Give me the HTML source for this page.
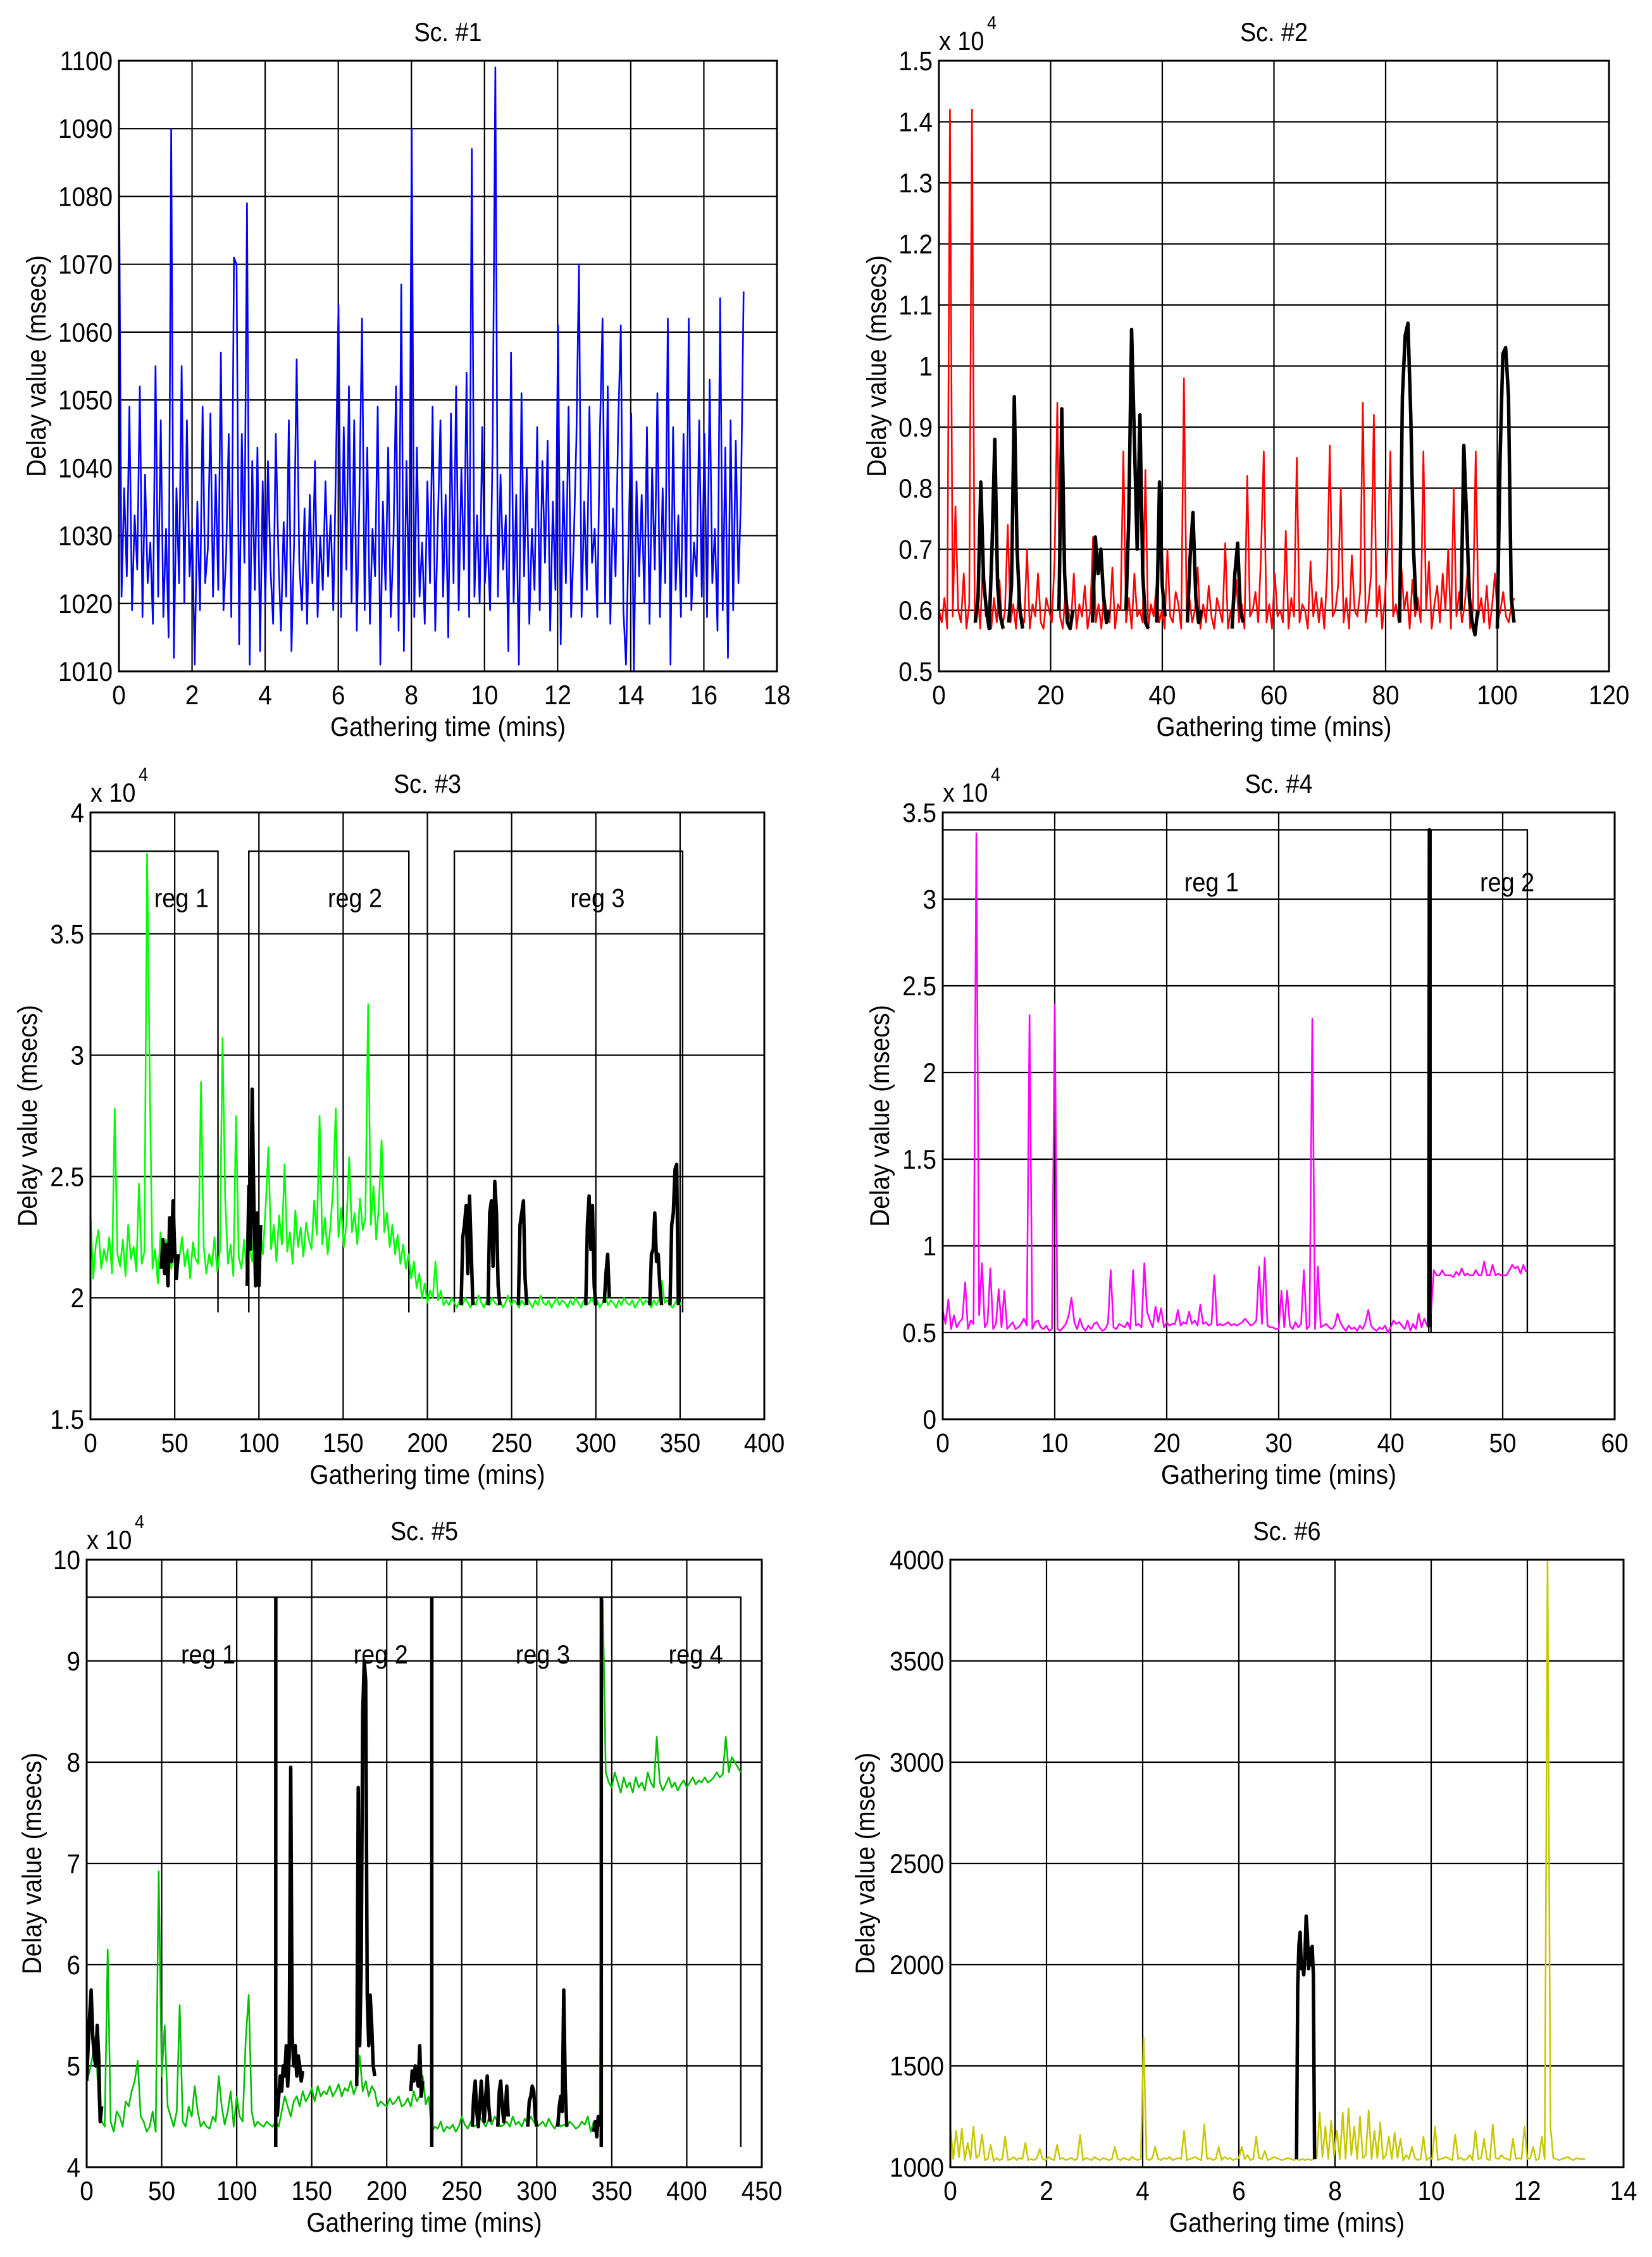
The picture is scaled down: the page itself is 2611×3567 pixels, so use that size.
<!DOCTYPE html>
<html><head><meta charset="utf-8"><title>Delay value vs gathering time</title>
<style>html,body{margin:0;padding:0;background:#fff}svg{display:block}text{font-family:"Liberation Sans",Arial,sans-serif;fill:#000}</style>
</head><body>
<svg id="fig" xmlns="http://www.w3.org/2000/svg" width="2611" height="3567" viewBox="0 0 2611 3567"><rect width="2611" height="3567" fill="#fff"/></svg>
<script>
// ---------- DATA ----------
// Sc.#1 (blue), t = i*dt
const s1T0 = 0, s1Dt = 0.0715;
const s1Blue = [1087,1021,1037,1024,1049,1019,1033,1025,1052,1018,1039,1023,1029,1017,1055,1021,1047,1018,1031,1015,
1090,1012,1037,1023,1055,1020,1047,1024,1031,1011,1035,1019,1049,1023,1028,1048,1021,1039,1022,1057,
1019,1027,1045,1018,1071,1070,1014,1045,1026,1079,1011,1041,1022,1043,1013,1038,1020,1041,1025,1017,
1045,1027,1016,1032,1021,1047,1013,1029,1056,1026,1019,1034,1017,1036,1023,1041,1018,1030,1022,1038,
1024,1033,1019,1040,1064,1018,1046,1025,1052,1020,1047,1016,1036,1062,1019,1043,1017,1031,1024,1049,
1011,1035,1022,1043,1018,1029,1052,1016,1067,1013,1041,1020,1090,1018,1043,1021,1029,1017,1038,1023,
1049,1016,1032,1047,1021,1036,1015,1048,1023,1052,1019,1040,1025,1054,1018,1087,1021,1033,1020,1046,
1023,1030,1019,1044,1099,1021,1039,1025,1033,1013,1057,1020,1036,1011,1051,1024,1040,1017,1031,1022,
1046,1019,1041,1026,1044,1016,1035,1022,1061,1014,1038,1023,1049,1018,1029,1044,1070,1018,1035,1022,
1049,1026,1031,1018,1045,1062,1020,1052,1017,1034,1024,1046,1061,1019,1011,1030,1048,1010,1038,1024,
1036,1020,1046,1017,1040,1025,1051,1018,1037,1023,1062,1011,1046,1022,1033,1018,1045,1021,1062,1019,
1029,1024,1047,1021,1045,1018,1053,1023,1031,1016,1065,1019,1043,1012,1047,1019,1044,1023,1036,1066];

// Sc.#2 (red, x10^4)
const s2T0 = 0, s2Dt = 0.493;
const s2Red = [0.60,0.58,0.62,0.57,1.42,0.59,0.77,0.60,0.58,0.66,0.57,0.61,1.42,0.58,0.63,0.57,0.69,0.59,0.60,0.57,
0.62,0.58,0.65,0.57,0.60,0.74,0.58,0.61,0.57,0.64,0.59,0.58,0.70,0.57,0.61,0.59,0.66,0.58,0.57,0.62,
0.60,0.58,0.68,0.94,0.59,0.57,0.63,0.60,0.58,0.66,0.57,0.61,0.59,0.64,0.57,0.60,0.72,0.58,0.61,0.57,
0.63,0.59,0.58,0.67,0.57,0.61,0.60,0.86,0.58,0.62,0.57,0.66,0.59,0.60,0.58,0.83,0.57,0.61,0.59,0.64,
0.58,0.60,0.57,0.70,0.59,0.58,0.63,0.61,0.57,0.98,0.59,0.62,0.58,0.60,0.67,0.57,0.61,0.58,0.64,0.59,
0.57,0.62,0.60,0.58,0.71,0.57,0.60,0.59,0.65,0.58,0.61,0.57,0.82,0.59,0.60,0.63,0.58,0.69,0.86,0.58,
0.61,0.57,0.66,0.59,0.60,0.58,0.73,0.57,0.62,0.59,0.85,0.58,0.61,0.60,0.57,0.68,0.59,0.63,0.58,0.62,
0.57,0.66,0.87,0.59,0.60,0.64,0.80,0.58,0.62,0.57,0.69,0.60,0.59,0.63,0.94,0.58,0.61,0.66,0.92,0.59,
0.64,0.57,0.62,0.70,0.86,0.59,0.61,0.58,0.67,0.60,0.63,0.57,0.65,0.59,0.62,0.58,0.86,0.60,0.68,0.57,
0.61,0.64,0.58,0.66,0.60,0.70,0.57,0.80,0.59,0.63,0.58,0.61,0.66,0.57,0.60,0.86,0.59,0.62,0.58,0.64,
0.57,0.61,0.66,0.58,0.60,0.63,0.59,0.58,0.61,0.62];
const s2BlackStarts = [6.5,12.5,21.5,27.5,33.5,39,44.5,52.5,82.5,93.5,100];
const s2BlackDt = 0.5;
const s2BlackValues = [
[0.58,0.62,0.81,0.65,0.60,0.57,0.70,0.88,0.64,0.59,0.57],
[0.58,0.64,0.95,0.70,0.60,0.57],
[0.60,0.93,0.66,0.58,0.57,0.60],
[0.58,0.72,0.66,0.70,0.62,0.58,0.60],
[0.60,0.75,1.06,0.88,0.70,0.92,0.66,0.58,0.57],
[0.58,0.81,0.64,0.59],
[0.58,0.69,0.76,0.62,0.58,0.60],
[0.57,0.66,0.71,0.60,0.58],
[0.58,0.95,1.05,1.07,0.92,0.70,0.60],
[0.60,0.87,0.75,0.62,0.58,0.56,0.60],
[0.57,0.85,1.02,1.03,0.95,0.62,0.58]];

// Sc.#3 (green, x10^4)
const s3T0 = 0, s3Dt = 1.6;
const s3Green = [2.35,2.08,2.22,2.28,2.12,2.20,2.15,2.25,2.10,2.78,2.18,2.13,2.24,2.09,2.30,2.16,2.21,2.11,2.47,2.14,
2.19,3.83,2.90,2.12,2.20,2.06,2.27,2.15,2.24,2.18,2.12,2.22,2.09,2.17,2.25,2.13,2.20,2.08,2.23,2.16,
2.14,2.89,2.21,2.10,2.18,2.13,2.25,2.11,2.19,3.07,2.40,2.14,2.22,2.09,2.75,2.17,2.12,2.24,2.10,2.20,
2.15,2.32,2.12,2.28,2.18,2.38,2.62,2.20,2.30,2.15,2.34,2.22,2.55,2.19,2.27,2.14,2.36,2.21,2.29,2.17,
2.31,2.24,2.20,2.40,2.26,2.75,2.22,2.33,2.18,2.29,2.45,2.78,2.25,2.37,2.21,2.31,2.58,2.27,2.35,2.22,
2.41,2.28,2.33,3.21,2.30,2.46,2.24,2.38,2.65,2.27,2.35,2.21,2.30,2.18,2.26,2.14,2.22,2.12,2.18,2.08,
2.15,2.04,2.10,2.00,2.06,1.98,2.03,2.00,2.15,1.99,2.03,1.97,1.99,1.97,2.00,1.98,1.96,1.99,1.97,2.00,
1.98,1.96,1.99,1.97,2.01,1.98,1.96,1.99,1.97,2.00,1.98,1.97,1.99,1.96,1.98,2.01,1.97,1.99,1.98,1.96,
1.99,1.97,2.00,1.98,1.96,1.99,1.97,2.01,1.98,1.97,1.99,1.96,1.98,2.00,1.97,1.99,1.98,1.96,1.99,1.97,
2.00,1.98,1.96,1.99,1.97,1.98,2.00,1.97,1.99,1.96,1.98,2.01,1.97,1.99,1.98,1.96,1.99,1.97,2.00,1.98,
1.97,1.99,1.96,1.98,2.00,1.97,1.99,1.98,1.96,1.99,1.97,2.00,2.07,1.98,1.99,1.97,1.96,1.98,2.00,1.97];
const s3BlackStarts = [42,93,220,236,254,294,305,332,344];
const s3BlackDt = 1;
const s3BlackValues = [
[2.12,2.24,2.10,2.22,2.05,2.33,2.15,2.40,2.20,2.08,2.18],
[2.05,2.46,2.20,2.86,2.38,2.05,2.35,2.05,2.30],
[1.97,2.25,2.30,2.38,2.10,2.42,2.20,1.97],
[1.97,2.35,2.40,2.13,2.48,2.35,2.05,1.97],
[1.97,2.30,2.35,2.40,2.08,1.97],
[1.97,2.30,2.42,2.20,2.38,2.05,1.97],
[1.98,2.10,2.18,2.00],
[1.97,2.18,2.20,2.35,2.15,2.18,2.05,1.97],
[1.97,2.30,2.35,2.53,2.55,1.97]];
const s3RegStart = [0,94,216];
const s3RegEnd = [75.7,189,351.5];
const s3RegTop = 3.84, s3RegBottom = 1.94;
const s3RegLabelX = [54,157,301];
const s3RegLabelY = 3.65;

// Sc.#4 (magenta, x10^4)
const s4T0 = 0, s4Dt = 0.25;
const s4Magenta = [0.63,0.55,0.69,0.52,0.60,0.53,0.56,0.58,0.79,0.52,0.57,0.55,3.38,0.60,0.90,0.53,0.56,0.87,0.52,0.55,
0.75,0.53,0.74,0.52,0.54,0.56,0.52,0.53,0.55,0.58,0.54,2.33,0.52,0.56,0.57,0.53,0.52,0.54,0.51,0.52,
2.39,0.52,0.51,0.53,0.55,0.60,0.70,0.56,0.52,0.58,0.53,0.51,0.54,0.52,0.55,0.56,0.53,0.51,0.52,0.55,
0.86,0.53,0.52,0.55,0.54,0.53,0.56,0.52,0.86,0.54,0.55,0.53,0.90,0.62,0.57,0.53,0.65,0.56,0.64,0.53,
0.56,0.54,0.55,0.55,0.63,0.54,0.56,0.55,0.62,0.55,0.57,0.54,0.66,0.55,0.56,0.54,0.55,0.83,0.54,0.55,
0.54,0.55,0.56,0.54,0.55,0.54,0.55,0.56,0.58,0.56,0.54,0.55,0.57,0.88,0.55,0.93,0.54,0.53,0.53,0.52,
0.52,0.74,0.53,0.74,0.54,0.52,0.56,0.53,0.55,0.86,0.52,0.54,2.31,0.52,0.88,0.53,0.54,0.55,0.53,0.52,
0.54,0.61,0.56,0.53,0.51,0.54,0.52,0.53,0.51,0.54,0.52,0.56,0.63,0.54,0.52,0.51,0.53,0.52,0.54,0.50,
0.53,0.57,0.55,0.56,0.54,0.52,0.57,0.51,0.55,0.52,0.61,0.53,0.58,0.54,0.53];
const s4Reg2T0 = 43.6, s4Reg2Dt = 0.25;
const s4MagentaReg2 = [0.61,0.86,0.83,0.83,0.86,0.83,0.83,0.83,0.82,0.85,0.83,0.87,0.83,0.84,0.83,0.83,0.86,0.83,0.83,0.91,0.83,0.83,0.89,0.83,0.84,0.83,0.83,0.83,0.86,0.89,0.87,0.88,0.84,0.89,0.85];
const s4BlackStarts = [43.4];
const s4BlackDt = 0.05;
const s4BlackValues = [[0.53,3.4,0.53]];
const s4RegStart = [0,43.6];
const s4RegEnd = [43.4,52.2];
const s4RegTop = 3.4, s4RegBottom = 0.5;
const s4RegLabelX = [24,50.4];
const s4RegLabelY = 3.1;

// Sc.#5 (green, x10^4)
const s5T0 = 0, s5Dt = 2;
const s5Green = [4.85,4.95,5.10,5.30,4.60,4.45,4.40,6.15,4.45,4.35,4.55,4.50,4.40,4.65,4.60,4.75,4.85,5.05,4.50,4.45,
4.35,4.40,4.55,4.35,6.92,4.90,5.40,4.60,4.50,4.40,4.55,5.60,4.45,4.40,4.60,4.50,4.80,4.55,4.40,4.45,
4.40,4.38,4.50,4.45,4.90,4.60,4.42,4.55,4.75,4.40,4.70,4.50,4.45,5.25,5.70,4.55,4.40,4.45,4.42,4.40,
4.45,4.42,4.40,4.45,4.40,4.55,4.70,4.60,4.50,4.65,4.70,4.60,4.75,4.65,4.70,4.78,4.65,4.80,4.70,4.75,
4.72,4.80,4.70,4.75,4.82,4.70,4.78,4.75,4.85,4.72,4.80,5.10,4.75,4.85,4.70,4.80,4.75,4.60,4.65,4.62,
4.60,4.68,4.62,4.65,4.70,4.60,4.62,4.68,4.60,4.75,4.65,4.70,4.90,4.62,4.70,4.35,4.40,4.38,4.45,4.35,
4.40,4.38,4.42,4.35,4.40,4.50,4.42,4.38,4.45,4.40,4.42,4.50,4.45,4.40,4.48,4.42,4.50,4.45,4.40,4.42,
4.45,4.40,4.50,4.42,4.45,4.40,4.48,4.42,4.50,4.45,4.40,4.42,4.45,4.40,4.48,4.42,4.38,4.45,4.40,4.42,
4.40,4.45,4.42,4.38,4.40,4.45,4.42,4.50,4.35,4.45,4.40,4.42,9.60,7.90,7.80,7.75,7.90,7.80,7.70,7.85,
7.75,7.80,7.70,7.85,7.75,7.80,7.72,7.90,7.80,7.75,8.25,7.80,7.72,7.78,7.85,7.75,7.80,7.72,7.78,7.82,
7.75,7.80,7.85,7.78,7.82,7.80,7.85,7.80,7.82,7.85,7.90,7.85,7.88,8.25,7.90,8.05,8.00,7.95,7.90];
const s5BlackStarts = [0,126,127,180,216,230,257,274,294,314,338,343];
const s5BlackValues = [
[4.85,5.20,5.50,5.75,5.30,5.10,5.00,5.40,5.10,4.45,4.60],
[4.20,9.63],
[4.50,4.70,4.90,4.75,5.00,4.90,5.20,4.80,5.10,7.95,5.30,5.00,5.20,4.90,5.10,5.00,4.85,4.95],
[4.80,7.75,5.20,6.00,8.50,9.00,8.80,5.70,5.20,5.70,5.40,5.00,4.90],
[4.75,4.95,4.85,5.00,4.90,4.80,5.20,4.70,4.85],
[4.20,9.63],
[4.40,4.70,4.85,4.55,4.40,4.60,4.85,4.60,4.45,4.70,4.90,4.60,4.45],
[4.40,4.75,4.85,4.60,4.45,4.55,4.80,4.50],
[4.40,4.65,4.70,4.80,4.75,4.50,4.40],
[4.40,4.60,4.70,4.55,5.75,4.80,4.40],
[4.35,4.45,4.30,4.50,4.40],
[4.20,9.63]];
const s5BlackDts = [1,0.05,1,1,1,0.05,1,1,1,1,1,0.05];
const s5RegStart = [0,126,230,343];
const s5RegEnd = [126,230,343,436];
const s5RegTop = 9.63, s5RegBottom = 4.2;
const s5RegLabelX = [81,196,304,406];
const s5RegLabelY = 9.07;

// Sc.#6 (yellow)
const s6T0 = 0, s6Dt = 0.06;
const s6Yellow = [1200,1040,1180,1050,1190,1035,1120,1040,1200,1045,1060,1160,1035,1040,1110,1030,1045,1035,1040,1150,
1035,1040,1050,1035,1045,1040,1120,1035,1040,1035,1045,1090,1040,1035,1050,1040,1035,1110,1040,1045,
1035,1040,1045,1035,1040,1160,1035,1045,1040,1035,1050,1040,1035,1045,1040,1035,1040,1100,1040,1035,
1045,1040,1035,1050,1040,1035,1040,1640,1040,1035,1045,1100,1040,1035,1045,1040,1050,1035,1040,1045,
1040,1180,1035,1040,1045,1050,1040,1035,1210,1040,1045,1035,1040,1100,1035,1050,1040,1045,1035,1040,
1045,1100,1040,1060,1035,1040,1150,1045,1040,1080,1035,1040,1050,1045,1040,1035,1040,1045,1040,1035,
1040,1035,1040,1035,1040,1035,1040,1045,1270,1050,1200,1040,1230,1060,1180,1040,1270,1040,1290,1060,
1200,1040,1250,1045,1060,1280,1040,1180,1045,1220,1040,1060,1150,1040,1170,1045,1140,1035,1060,1040,
1100,1045,1035,1040,1150,1035,1045,1040,1200,1035,1040,1045,1050,1040,1035,1160,1040,1045,1035,1040,
1060,1035,1180,1040,1045,1140,1040,1035,1210,1045,1040,1060,1045,1040,1035,1140,1040,1045,1040,1200,
1040,1045,1100,1035,1040,1150,1040,4000,1200,1045,1040,1035,1040,1045,1050,1040,1035,1045,1040,1040,1040];
const s6BlackStarts = [7.2];
const s6BlackDt = 0.025;
const s6BlackValues = [[1040,1900,2100,2160,1980,2000,1950,2050,2240,2150,1980,2080,2000,2090,1950,1040]];

// tick labels
const p1XTicks = [0,2,4,6,8,10,12,14,16,18];
const p1YTicks = [1010,1020,1030,1040,1050,1060,1070,1080,1090,1100];
const p2XTicks = [0,20,40,60,80,100,120];
const p2YTicks = [0.5,0.6,0.7,0.8,0.9,1,1.1,1.2,1.3,1.4,1.5];
const p3XTicks = [0,50,100,150,200,250,300,350,400];
const p3YTicks = [1.5,2,2.5,3,3.5,4];
const p4XTicks = [0,10,20,30,40,50,60];
const p4YTicks = [0,0.5,1,1.5,2,2.5,3,3.5];
const p5XTicks = [0,50,100,150,200,250,300,350,400,450];
const p5YTicks = [4,5,6,7,8,9,10];
const p6XTicks = [0,2,4,6,8,10,12,14];
const p6YTicks = [1000,1500,2000,2500,3000,3500,4000];

// ---------- DRAWING ----------
const NS = 'http://www.w3.org/2000/svg';
const svg = document.getElementById('fig');
function mk(tag, attrs, parent){
  const e = document.createElementNS(NS, tag);
  for (const k in attrs) e.setAttribute(k, attrs[k]);
  (parent || svg).appendChild(e);
  return e;
}
function txt(parent, x, y, s, size, anchor, rot){
  const t = mk('text', {transform:'translate('+x+','+y+') rotate('+(rot||0)+') scale(0.9,1)', 'font-size':size, 'text-anchor':anchor, x:0, y:0}, parent);
  t.textContent = s;
  return t;
}
let clipId = 0;
function panel(c){
  const g = mk('g', {});
  
  
  const X = v => c.L + (v - c.xmin) / (c.xmax - c.xmin) * (c.R - c.L);
  const Y = v => c.B - (v - c.ymin) / (c.ymax - c.ymin) * (c.B - c.T);
  const cid = 'clip' + (clipId++);
  const cp = mk('clipPath', {id:cid}, g);
  mk('rect', {x:c.L, y:c.T, width:c.R-c.L, height:c.B-c.T}, cp);
  const grid = mk('g', {stroke:'#000', 'stroke-width':2.2, fill:'none'}, g);
  
  
  c.xt.forEach(v => mk('line', {x1:X(v), x2:X(v), y1:c.T, y2:c.B}, grid));
  c.yt.forEach(v => mk('line', {x1:c.L, x2:c.R, y1:Y(v), y2:Y(v)}, grid));
  const plot = mk('g', {'clip-path':'url(#'+cid+')'}, g);
  if (c.regS){
    c.regS.forEach((a, i) => {
      const b = c.regE[i];
      const p = mk('path', {d:'M'+X(a)+','+Y(c.regB)+'L'+X(a)+','+Y(c.regT)+'L'+X(b)+','+Y(c.regT)+'L'+X(b)+','+Y(c.regB), stroke:'#000', 'stroke-width':2.4, fill:'none'}, plot);
      
      
    });
  }
  function line(t0, dt, vals, color, w, nm){
    let d = '';
    vals.forEach((v, i) => { d += (i ? 'L' : 'M') + X(t0 + i*dt).toFixed(1) + ',' + Y(v).toFixed(1); });
    const p = mk('path', {d:d, stroke:color, 'stroke-width':w, fill:'none', 'stroke-linejoin':'round'}, plot);
    
    
  }
  c.series.forEach(s => line(s.t0, s.dt, s.v, s.color, 2.6, s.name));
  if (c.black) c.black.starts.forEach((t0, i) => line(t0, c.black.dts ? c.black.dts[i] : c.black.dt, c.black.vals[i], '#000', 5.5, 'black-segment'));
  if (c.regS){
    c.regLX.forEach((v, i) => {
      const t = txt(g, X(v), Y(c.regLY) + 15, 'reg ' + (i+1), 42, 'middle');
      
      
    });
  }
  const box = mk('rect', {x:c.L, y:c.T, width:c.R-c.L, height:c.B-c.T, fill:'none', stroke:'#000', 'stroke-width':3}, g);
  
  
  c.xt.forEach(v => {
    const t = txt(g, X(v), c.B + 52, String(v), 43, 'middle');
    
    
  });
  c.yt.forEach(v => {
    const t = txt(g, c.L - 10, Y(v) + 15, String(v), 43, 'end');
    
    
  });
  const ti = txt(g, (c.L + c.R)/2, c.T - 31, c.title, 42, 'middle');
  
  
  const xl = txt(g, (c.L + c.R)/2, c.B + 102, 'Gathering time (mins)', 43, 'middle');
  
  
  const yl = txt(g, c.ylx + 15, (c.T + c.B)/2, 'Delay value (msecs)', 43, 'middle', -90);
  
  
  if (c.exp){
    const e1 = txt(g, c.L, c.T - 17, 'x 10', 42, 'start');
    
    
    const e2 = txt(g, c.L + 76, c.T - 50, '4', 30, 'start');
    
    
  }
}

panel({name:'panel-sc1', title:'Sc. #1', L:188, R:1228, T:96, B:1061, xmin:0, xmax:18, ymin:1010, ymax:1100, xt:p1XTicks, yt:p1YTicks, ylx:57,
  series:[{t0:s1T0, dt:s1Dt, v:s1Blue, color:'#0000ff', name:'blue-delay-line'}]});
panel({name:'panel-sc2', title:'Sc. #2', L:1484, R:2543, T:96, B:1061, xmin:0, xmax:120, ymin:0.5, ymax:1.5, xt:p2XTicks, yt:p2YTicks, ylx:1385, exp:true,
  series:[{t0:s2T0, dt:s2Dt, v:s2Red, color:'#ff0000', name:'red-delay-line'}],
  black:{starts:s2BlackStarts, dt:s2BlackDt, vals:s2BlackValues}});
panel({name:'panel-sc3', title:'Sc. #3', L:143, R:1208, T:1284, B:2243, xmin:0, xmax:400, ymin:1.5, ymax:4, xt:p3XTicks, yt:p3YTicks, ylx:43, exp:true,
  series:[{t0:s3T0, dt:s3Dt, v:s3Green, color:'#00ff00', name:'green-delay-line'}],
  black:{starts:s3BlackStarts, dt:s3BlackDt, vals:s3BlackValues},
  regS:s3RegStart, regE:s3RegEnd, regT:s3RegTop, regB:s3RegBottom, regLX:s3RegLabelX, regLY:s3RegLabelY});
panel({name:'panel-sc4', title:'Sc. #4', L:1490, R:2552, T:1284, B:2243, xmin:0, xmax:60, ymin:0, ymax:3.5, xt:p4XTicks, yt:p4YTicks, ylx:1390, exp:true,
  series:[{t0:s4T0, dt:s4Dt, v:s4Magenta, color:'#ff00ff', name:'magenta-delay-line'},{t0:s4Reg2T0, dt:s4Reg2Dt, v:s4MagentaReg2, color:'#ff00ff', name:'magenta-delay-line-reg2'}],
  black:{starts:s4BlackStarts, dt:s4BlackDt, vals:s4BlackValues},
  regS:s4RegStart, regE:s4RegEnd, regT:s4RegTop, regB:s4RegBottom, regLX:s4RegLabelX, regLY:s4RegLabelY});
panel({name:'panel-sc5', title:'Sc. #5', L:137, R:1204, T:2465, B:3425, xmin:0, xmax:450, ymin:4, ymax:10, xt:p5XTicks, yt:p5YTicks, ylx:50, exp:true,
  series:[{t0:s5T0, dt:s5Dt, v:s5Green, color:'#00c000', name:'green-delay-line'}],
  black:{starts:s5BlackStarts, dts:s5BlackDts, vals:s5BlackValues},
  regS:s5RegStart, regE:s5RegEnd, regT:s5RegTop, regB:s5RegBottom, regLX:s5RegLabelX, regLY:s5RegLabelY});
panel({name:'panel-sc6', title:'Sc. #6', L:1502, R:2566, T:2465, B:3425, xmin:0, xmax:14, ymin:1000, ymax:4000, xt:p6XTicks, yt:p6YTicks, ylx:1367,
  series:[{t0:s6T0, dt:s6Dt, v:s6Yellow, color:'#c8c800', name:'yellow-delay-line'}],
  black:{starts:s6BlackStarts, dt:s6BlackDt, vals:s6BlackValues}});
</script>
</body></html>
